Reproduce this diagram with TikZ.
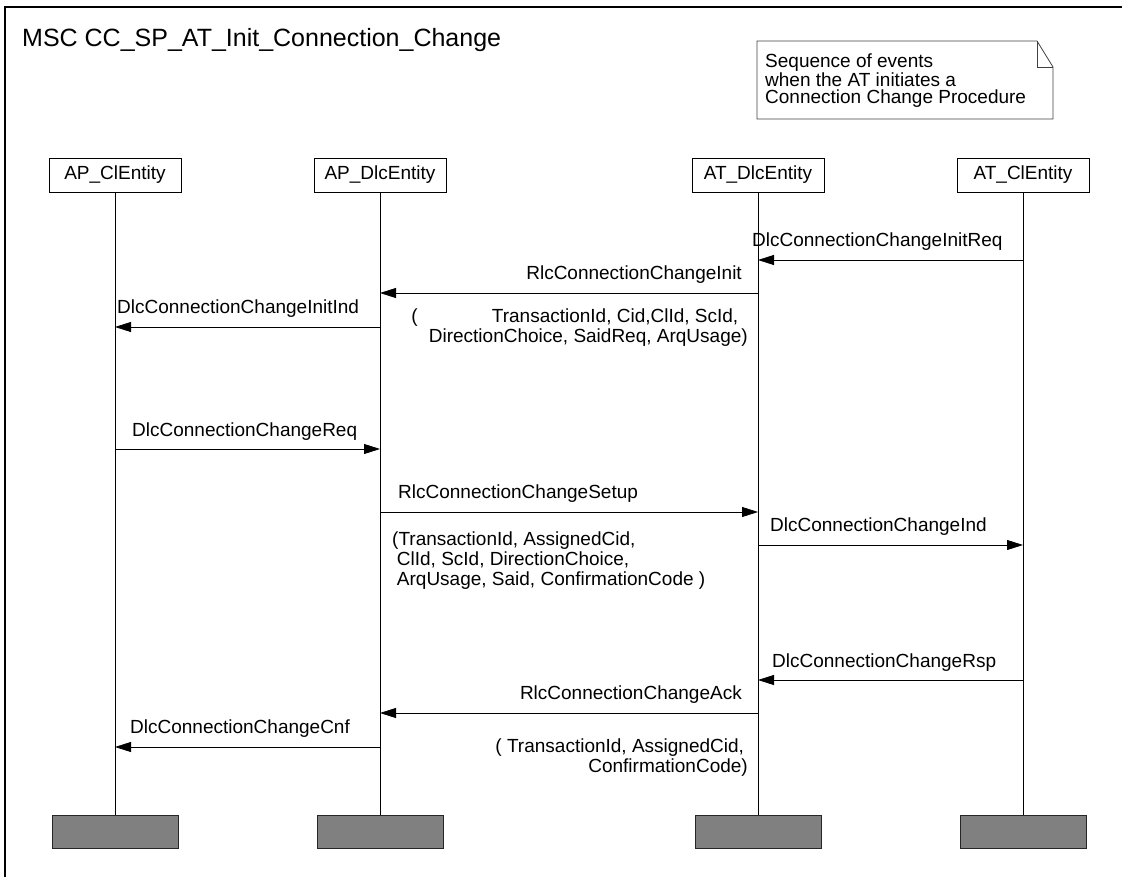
\documentclass[tikz,border=0pt]{standalone}
\usepackage{fontspec}
\setmainfont{Liberation Sans}
\usetikzlibrary{arrows.meta}

\begin{document}
\begin{tikzpicture}[x=1pt,y=-1pt,
  inst/.style={draw, line width=0.8pt, minimum width=132pt, minimum height=34pt,
    inner sep=0pt, font=\fontsize{19}{22}\selectfont},
  endbox/.style={draw=black!85, fill=black!50, line width=1pt,
    minimum width=126pt, minimum height=33pt, inner sep=0pt},
  life/.style={line width=0.7pt},
  msg/.style={line width=0.8pt, -{Triangle[length=16pt,width=10pt]}},
  lbl/.style={font=\fontsize{19}{20}\selectfont, inner sep=0pt},
  params/.style={font=\fontsize{19}{20}\selectfont, inner sep=0pt},
  notebox/.style={draw=black!75, line width=0.8pt}
]
\useasboundingbox (0,0) rectangle (1122,877);

% frame of the chart
\draw[line width=1.2pt] (5,877) -- (5,7) -- (1122,7);

% title
\node[anchor=base west, inner sep=0pt, font=\fontsize{25}{25}\selectfont] (title) at (22,47)
  {MSC CC\_SP\_AT\_Init\_Connection\_Change};

% comment symbol
\draw[notebox] (757,41) -- (1037,41) -- (1053,67) -- (1053,119) -- (757,119) -- cycle;
\draw[notebox] (1037,41) -- (1037,67) -- (1053,67);
\node[anchor=north west, align=left, inner sep=0pt,
  font=\fontsize{19}{17}\selectfont] (note) at (765,54)
  {Sequence of events\\when the AT initiates a\\Connection Change Procedure};

% instance heads
\node[inst] (apcl)  at (115,175) {AP\_ClEntity};
\node[inst] (apdlc) at (380,175) {AP\_DlcEntity};
\node[inst] (atdlc) at (758,175) {AT\_DlcEntity};
\node[inst] (atcl)  at (1023,175) {AT\_ClEntity};

% instance ends
\node[endbox] (apclEnd)  at (115,831.5) {};
\node[endbox] (apdlcEnd) at (380,831.5) {};
\node[endbox] (atdlcEnd) at (758,831.5) {};
\node[endbox] (atclEnd)  at (1023,831.5) {};

% lifelines
\draw[life] (apcl.south)  -- (apclEnd.north);
\draw[life] (apdlc.south) -- (apdlcEnd.north);
\draw[life] (atdlc.south) -- (atdlcEnd.north);
\draw[life] (atcl.south)  -- (atclEnd.north);

% messages
\draw[msg] (atcl |- 0,260)  -- (atdlc |- 0,260);
\node[lbl, anchor=base west] (l1) at (752,247) {DlcConnectionChangeInitReq};

\draw[msg] (atdlc |- 0,293) -- (apdlc |- 0,293);
\node[lbl, anchor=base east] (l2) at (742,280) {RlcConnectionChangeInit};
\node[params, anchor=north east, align=right] (p2) at (748,309)
  {(\hspace*{3.9em}TransactionId, Cid,ClId, ScId,\hspace*{0.5em}\\DirectionChoice, SaidReq, ArqUsage)};

\draw[msg] (apdlc |- 0,327) -- (apcl |- 0,327);
\node[lbl, anchor=base west] (l3) at (117,314) {DlcConnectionChangeInitInd};

\draw[msg] (apcl |- 0,449)  -- (apdlc |- 0,449);
\node[lbl, anchor=base west] (l4) at (132,436) {DlcConnectionChangeReq};

\draw[msg] (apdlc |- 0,512) -- (atdlc |- 0,512);
\node[lbl, anchor=base west] (l5) at (398,498) {RlcConnectionChangeSetup};
\node[params, anchor=north west, align=left] (p5) at (392,532)
  {(TransactionId, AssignedCid,\\\hspace*{0.25em}ClId, ScId, DirectionChoice,\\\hspace*{0.25em}ArqUsage, Said, ConfirmationCode )};

\draw[msg] (atdlc |- 0,545) -- (atcl |- 0,545);
\node[lbl, anchor=base west] (l6) at (770,531) {DlcConnectionChangeInd};

\draw[msg] (atcl |- 0,680)  -- (atdlc |- 0,680);
\node[lbl, anchor=base west] (l7) at (772,667) {DlcConnectionChangeRsp};

\draw[msg] (atdlc |- 0,713) -- (apdlc |- 0,713);
\node[lbl, anchor=base east] (l8) at (742,699) {RlcConnectionChangeAck};
\node[params, anchor=north east, align=right] (p8) at (748,739)
  {( TransactionId, AssignedCid,\hspace*{0.2em}\\ConfirmationCode)};

\draw[msg] (apdlc |- 0,747) -- (apcl |- 0,747);
\node[lbl, anchor=base west] (l9) at (130,733) {DlcConnectionChangeCnf};

\end{tikzpicture}
\end{document}
